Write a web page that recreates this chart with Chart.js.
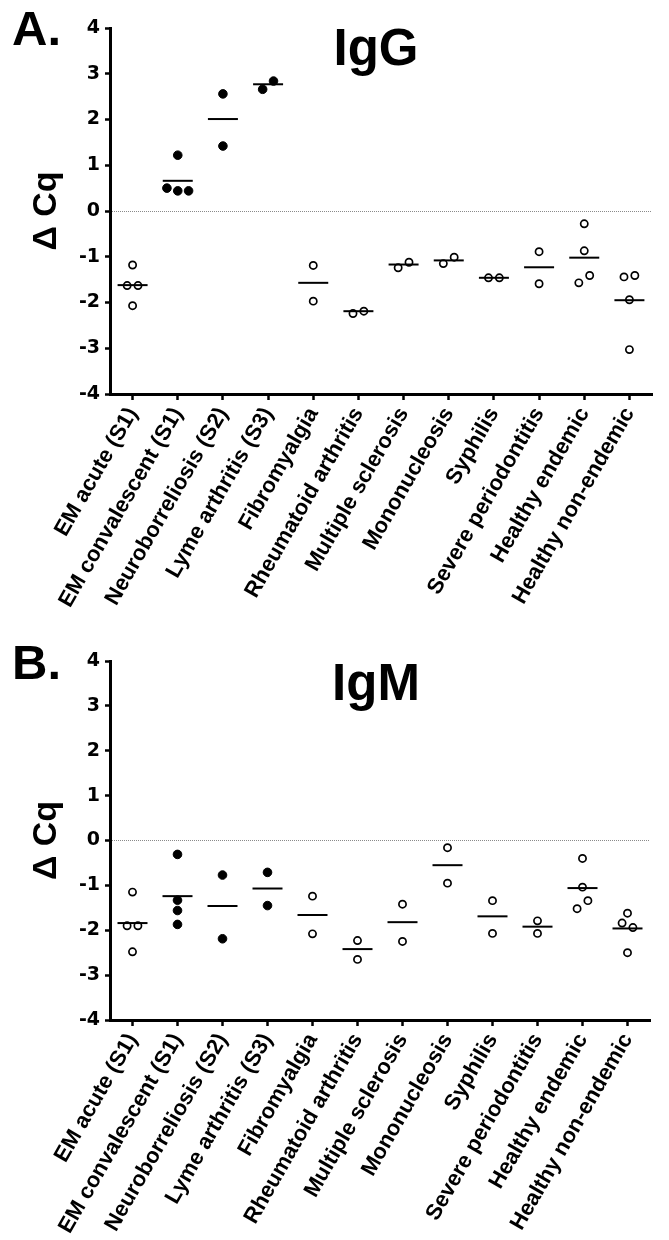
<!DOCTYPE html>
<html>
<head>
<meta charset="utf-8">
<script src="https://cdn.jsdelivr.net/npm/chart.js@4.4.0/dist/chart.umd.min.js"></script>
<style>
  body { margin: 0; background: #fff; }
  .panel { position: relative; width: 669px; height: 620px; }
</style>
</head>
<body>
<div class="panel"><canvas id="chartA"></canvas></div>
<div class="panel"><canvas id="chartB"></canvas></div>
<script>
// groups, left to right on the x axis
const categories = ['EM acute (S1)', 'EM convalescent (S1)', 'Neuroborreliosis (S2)', 'Lyme arthritis (S3)',
  'Fibromyalgia', 'Rheumatoid arthritis', 'Multiple sclerosis', 'Mononucleosis', 'Syphilis',
  'Severe periodontitis', 'Healthy endemic', 'Healthy non-endemic'];
// filled dots for the Lyme groups that count as positive
const filledGroups = [false, true, true, true, false, false, false, false, false, false, false, false];

// A. IgG - delta Cq for every sample (read left to right inside a group)
const iggValues = [
  [-1.18, -1.63, -1.63, -2.07],
  [1.22, 0.50, 0.44, 0.44],
  [2.56, 1.42],
  [2.66, 2.84],
  [-1.19, -1.97],
  [-2.24, -2.19],
  [-1.24, -1.12],
  [-1.15, -1.01],
  [-1.46, -1.46],
  [-0.89, -1.59],
  [-0.28, -0.87, -1.57, -1.41],
  [-1.44, -1.41, -1.94, -3.03]
];
const iggMeans = [-1.62, 0.66, 2.01, 2.77, -1.57, -2.19, -1.17, -1.08, -1.46, -1.23, -1.02, -1.95];

// B. IgM
const igmValues = [
  [-1.15, -1.90, -1.90, -2.48],
  [-0.31, -1.33, -1.56, -1.87],
  [-0.77, -2.19],
  [-0.71, -1.45],
  [-1.24, -2.08],
  [-2.23, -2.65],
  [-1.42, -2.25],
  [-0.16, -0.95],
  [-1.34, -2.07],
  [-1.79, -2.07],
  [-0.40, -1.04, -1.52, -1.34],
  [-1.62, -1.84, -1.94, -2.50]
];
const igmMeans = [-1.84, -1.24, -1.46, -1.07, -1.66, -2.42, -1.82, -0.55, -1.69, -1.92, -1.06, -1.96];

const yMin = -4, yMax = 4;

// small beeswarm: points closer than `near` in value get spread sideways
function spread(groups, near, step) {
  const open = [], full = [];
  groups.forEach((vals, gi) => {
    const clusters = [];
    vals.forEach(v => {
      const c = clusters.find(cl => cl.some(u => Math.abs(u - v) < near));
      if (c) c.push(v); else clusters.push([v]);
    });
    clusters.forEach(cl => {
      cl.forEach((v, k) => {
        const p = { x: gi + (k - (cl.length - 1) / 2) * step, y: v };
        (filledGroups[gi] ? full : open).push(p);
      });
    });
  });
  return { open, full };
}

const panelText = {
  id: 'panelText',
  afterDraw(chart, args, opts) {
    const ctx = chart.ctx;
    ctx.save();
    ctx.fillStyle = '#000';
    ctx.textBaseline = 'alphabetic';
    ctx.font = 'bold 49px "Liberation Sans", Arial, sans-serif';
    ctx.textAlign = 'left';
    ctx.fillText(opts.letter, 12, opts.letterY);
    ctx.font = 'bold 51px "Liberation Sans", Arial, sans-serif';
    ctx.textAlign = 'center';
    ctx.fillText(opts.title, 376, opts.titleY);
    ctx.restore();
  }
};

function makeChart(id, groups, means, letter, title, lay) {
  const pts = spread(groups, 0.2, 0.24);
  const meanPts = means.map((m, i) => ({ x: i, y: m }));
  return new Chart(document.getElementById(id), {
    type: 'scatter',
    data: {
      datasets: [
        { data: meanPts, pointStyle: 'line', pointRadius: 15, borderWidth: 2, borderColor: '#000' },
        { data: pts.full, pointRadius: 4.3, backgroundColor: '#000', borderColor: '#000', borderWidth: 1 },
        { data: pts.open, pointRadius: 3.6, backgroundColor: 'rgba(255,255,255,0)', borderColor: '#000', borderWidth: 1.7 }
      ]
    },
    options: {
      responsive: true,
      maintainAspectRatio: false,
      animation: false,
      layout: { padding: { top: lay.top, right: lay.right, left: 0, bottom: 0 } },
      plugins: {
        legend: { display: false },
        tooltip: { enabled: false },
        panelText: { letter: letter, title: title, letterY: lay.letterY, titleY: lay.titleY }
      },
      scales: {
        x: {
          type: 'linear',
          min: -0.5,
          max: categories.length - 0.5,
          afterBuildTicks: s => { s.ticks = categories.map((c, i) => ({ value: i })); },
          afterFit: s => { s.height = lay.xHeight; },
          ticks: {
            autoSkip: false,
            minRotation: 60,
            maxRotation: 60,
            padding: 3,
            color: '#000',
            font: { family: '"Liberation Sans", Arial, sans-serif', weight: 'bold', size: 22 },
            callback: v => categories[v]
          },
          grid: { drawOnChartArea: false, tickLength: 6, tickWidth: 2.5, tickColor: '#000' },
          border: { color: '#000', width: 3 }
        },
        y: {
          min: yMin,
          max: yMax,
          afterFit: s => { s.width = 110; },
          ticks: {
            stepSize: 1,
            padding: 5,
            color: '#000',
            font: { family: '"DejaVu Sans", sans-serif', weight: 'bold', size: 19 }
          },
          grid: {
            color: c => (c.tick && c.tick.value === 0) ? '#8a8a8a' : 'rgba(0,0,0,0)',
            lineWidth: 1,
            tickLength: 5,
            tickWidth: 2.5,
            tickColor: '#000'
          },
          border: { color: '#000', width: 3, dash: [1, 1] },
          title: {
            display: true,
            text: '\u0394 Cq',
            color: '#000',
            font: { family: '"Liberation Sans", Arial, sans-serif', weight: 'bold', size: 34 },
            padding: { top: 26, bottom: 0 }
          }
        }
      }
    },
    plugins: [panelText]
  });
}

makeChart('chartA', iggValues, iggMeans, 'A.', 'IgG', { top: 28, right: 7, xHeight: 226, letterY: 45, titleY: 65 });
makeChart('chartB', igmValues, igmMeans, 'B.', 'IgM', { top: 41, right: 19, xHeight: 220, letterY: 59, titleY: 80 });
</script>
</body>
</html>
